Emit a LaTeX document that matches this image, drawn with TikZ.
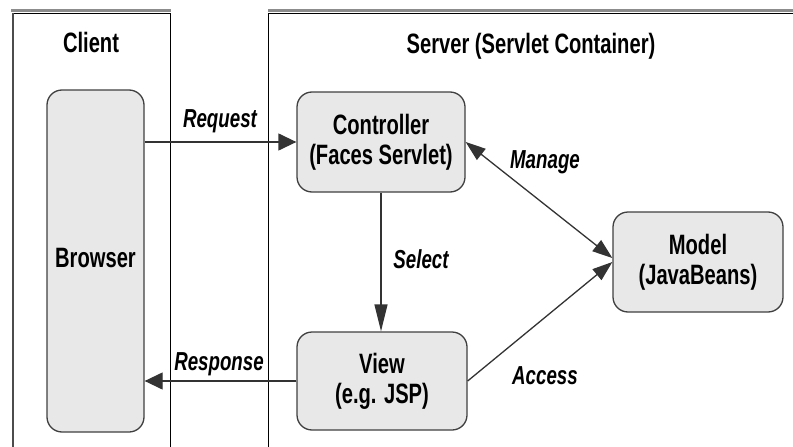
\documentclass[tikz,border=0pt]{standalone}
\usepackage{fontspec}
\setmainfont{Liberation Sans}[FakeStretch=0.72]
\usetikzlibrary{arrows.meta}

\begin{document}
\begin{tikzpicture}[x=1pt,y=-1pt,
  box/.style={draw=black!75, line width=1.3pt, fill=black!9,
    rounded corners=15pt, align=center, inner sep=0pt,
    font=\bfseries\fontsize{28}{30}\selectfont},
  ttl/.style={anchor=base, inner sep=0pt, font=\bfseries\fontsize{28}{30}\selectfont},
  lbl/.style={anchor=base, inner sep=0pt, font=\bfseries\itshape\fontsize{26}{30}\selectfont},
  conn/.style={line width=1.3pt, draw=black!80},
  harrow/.style={-{Triangle[length=18pt,width=17pt]}},
  varrow/.style={-{Triangle[length=27pt,width=13pt]}},
  darrow/.style={-{Triangle[length=20pt,width=14pt]}},
  dboth/.style={{Triangle[length=20pt,width=14pt]}-{Triangle[length=20pt,width=14pt]}},
  frameedge/.style={line width=1pt, draw=black},
  frametop/.style={line width=3pt, draw=black!45}
]
\useasboundingbox (0,0) rectangle (793,447);

% client and server containers (open at the bottom / right)
\draw[frametop] (11,10.5) -- (171,10.5);
\draw[frametop] (268,10.5) -- (793,10.5);
\draw[frameedge] (12.5,447) -- (12.5,13.3) -- (170,13.3) -- (170,447);
\draw[line width=2pt, draw=black!70] (12.5,447) -- (12.5,13);
\draw[frameedge] (268.5,447) -- (268.5,13.3) -- (793,13.3);

\node[ttl] (client) at (91,52) {Client};
\node[ttl] (server) at (531,53) {Server (Servlet Container)};

% components
\node[box, minimum width=97pt, minimum height=342pt, text depth=7pt]
  (browser) at (95.5,261) {Browser};
\node[box, minimum width=168pt, minimum height=100pt]
  (ctrl) at (381,142) {Controller\\(Faces Servlet)};
\node[box, minimum width=170pt, minimum height=98pt]
  (view) at (382,381) {View\\(e.g. JSP)};
\node[box, minimum width=170pt, minimum height=100pt]
  (model) at (698,262) {Model\\(JavaBeans)};

% connectors
\draw[conn, harrow] (browser.east |- ctrl.west) -- (ctrl.west);
\draw[conn, harrow] (view.west) -- (browser.east |- view.west);
\draw[conn, varrow] (ctrl.south) -- (ctrl.south |- view.north);
\draw[conn, dboth] (ctrl.east) -- ([yshift=4pt]model.west);
\draw[conn, darrow] (view.east) -- (model.west);

% connector labels
\node[lbl] (lreq) at (220,127) {Request};
\node[lbl] (lresp) at (219,370) {Response};
\node[lbl] (lsel) at (421,268) {Select};
\node[lbl] (lman) at (545,168) {Manage};
\node[lbl] (lacc) at (545,384) {Access};
\end{tikzpicture}
\end{document}
